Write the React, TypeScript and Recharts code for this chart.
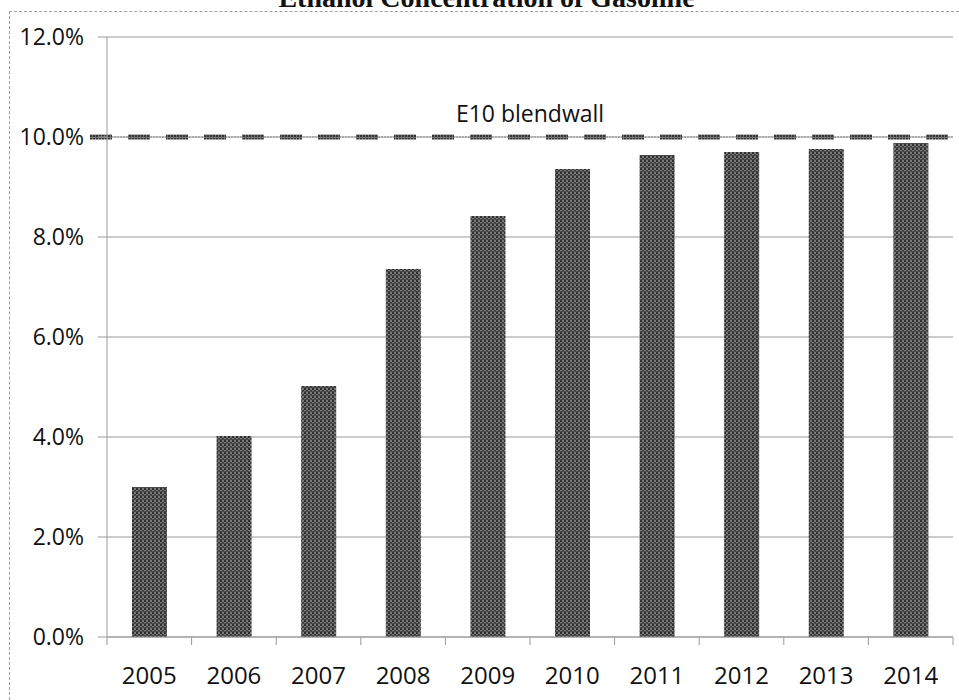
import { Bar, BarChart, CartesianGrid, ReferenceLine, XAxis, YAxis } from 'recharts';

const years = ['2005', '2006', '2007', '2008', '2009', '2010', '2011', '2012', '2013', '2014'];
const ethanolShare = [3.0, 4.02, 5.02, 7.36, 8.42, 9.36, 9.64, 9.7, 9.76, 9.88];
const yTicks = [0, 2, 4, 6, 8, 10, 12];
const blendwall = 10;
const blendwallLabel = 'E10 blendwall';
const title = 'Ethanol Concentration of Gasoline';

const data = years.map((year, i) => ({ year, share: ethanolShare[i] }));

const W = 959;
const H = 700;
const MARGIN = { top: 37, right: 6, bottom: 0, left: 0 };
const Y_AXIS_W = 107;
const X_AXIS_H = 63;
const FONT = '"Open Sans", "Liberation Sans", sans-serif';
const GRID = '#9a9a9a';

function XTick(props: any) {
  const { x, y, payload, index } = props;
  const fallback = (W - MARGIN.right - Y_AXIS_W) / years.length / 2;
  const half = payload?.offset || fallback;
  return (
    <g>
      <line x1={x - half} x2={x - half} y1={y} y2={y + 8} stroke={GRID} />
      {index === years.length - 1 && (
        <line x1={x + half} x2={x + half} y1={y} y2={y + 8} stroke={GRID} />
      )}
      <text x={x} y={y + 47} textAnchor="middle" fontSize={24} fill="#111" fontFamily={FONT}>
        {payload.value}
      </text>
    </g>
  );
}

function BlendwallLine(props: any) {
  const { x1, x2, y1 } = props;
  const left = x1 - 17;
  return (
    <g>
      <line x1={left} x2={x2} y1={y1} y2={y1} stroke="#8a8a8a" strokeWidth={1} strokeDasharray="2 1" />
      <line x1={left} x2={x2} y1={y1} y2={y1} stroke="url(#dashPat)" strokeWidth={5} strokeDasharray="22 16" />
      <text x={(x1 + x2) / 2} y={y1 - 15} textAnchor="middle" fontSize={23} fill="#111" fontFamily={FONT}>
        {blendwallLabel}
      </text>
    </g>
  );
}

export default function App() {
  return (
    <div
      style={{
        position: 'absolute',
        left: 0,
        top: 0,
        width: W,
        height: H,
        overflow: 'hidden',
        background: '#fff',
      }}
    >
      <div
        style={{
          position: 'absolute',
          left: 0,
          width: W,
          top: -16,
          textAlign: 'center',
          fontFamily: '"Liberation Serif", "Times New Roman", serif',
          fontWeight: 'bold',
          fontSize: 28,
          lineHeight: '28px',
          color: '#111',
          paddingLeft: 14,
          boxSizing: 'border-box',
        }}
      >
        {title}
      </div>
      <div
        style={{
          position: 'absolute',
          left: 9,
          top: 11,
          right: 0,
          bottom: 0,
          borderTop: '1px dashed #a0a0a0',
          borderLeft: '1px dashed #a0a0a0',
        }}
      />
      <div style={{ position: 'absolute', left: 0, top: 0 }}>
        <BarChart width={W} height={H} data={data} margin={MARGIN} barSize={35}>
          <defs>
            <pattern id="barPat" width="4" height="4" patternUnits="userSpaceOnUse">
              <rect width="4" height="4" fill="#7a7a7a" />
              <rect x="0" y="0" width="2" height="2" fill="#2e2e2e" />
              <rect x="2" y="2" width="2" height="2" fill="#3a3a3a" />
              <rect x="0" y="3" width="4" height="1" fill="#4a4a4a" />
            </pattern>
            <pattern id="dashPat" width="3" height="3" patternUnits="userSpaceOnUse">
              <rect width="3" height="3" fill="#777" />
              <rect x="0" y="0" width="2" height="2" fill="#333" />
            </pattern>
          </defs>
          <CartesianGrid vertical={false} stroke={GRID} />
          <XAxis
            dataKey="year"
            height={X_AXIS_H}
            axisLine={{ stroke: GRID }}
            tickLine={false}
            tickSize={0}
            tickMargin={0}
            tick={<XTick />}
            interval={0}
          />
          <YAxis
            width={Y_AXIS_W}
            domain={[0, 12]}
            ticks={yTicks}
            interval={0}
            axisLine={{ stroke: GRID }}
            tickLine={{ stroke: GRID }}
            tickSize={9}
            tickMargin={14}
            tickFormatter={(v: number) => `${v.toFixed(1)}%`}
            tick={{ fontSize: 23, fill: '#111', fontFamily: FONT }}
          />
          <Bar dataKey="share" fill="url(#barPat)" isAnimationActive={false} />
          <ReferenceLine y={blendwall} shape={<BlendwallLine />} />
        </BarChart>
      </div>
    </div>
  );
}
